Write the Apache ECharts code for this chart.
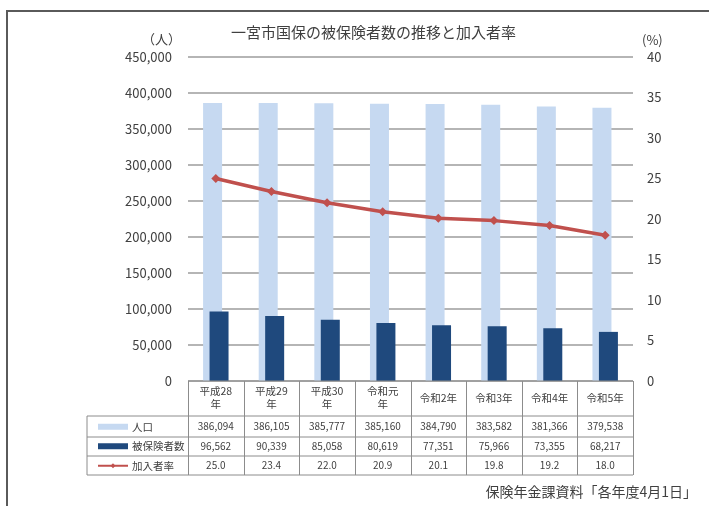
<!DOCTYPE html>
<html>
<head>
<meta charset="utf-8">
<script src="https://cdn.jsdelivr.net/npm/echarts@6/dist/echarts.min.js"></script>
<style>
  html, body { margin: 0; padding: 0; background: #fff; }
  #chart { width: 709px; height: 506px; }
</style>
</head>
<body>
<div id="chart"></div>
<script>
// 年度（各年度4月1日現在）
const categories = ['平成28\n年', '平成29\n年', '平成30\n年', '令和元\n年', '令和2年', '令和3年', '令和4年', '令和5年'];
// 人口
const population = [386094, 386105, 385777, 385160, 384790, 383582, 381366, 379538];
// 被保険者数
const insured = [96562, 90339, 85058, 80619, 77351, 75966, 73355, 68217];
// 加入者率（%）
const joinRate = [25.0, 23.4, 22.0, 20.9, 20.1, 19.8, 19.2, 18.0];

const seriesNames = ['人口', '被保険者数', '加入者率'];

const FONT = '"Noto Sans CJK JP", "Noto Sans", sans-serif';
const TEXT = '#404040';
const fmt = v => v.toLocaleString('en-US');

// plot area
const G = { left: 188, top: 57, right: 633, bottom: 381 };
// data table rows under the plot
const tableLeft = 87;
const rowLines = [416, 437, 456, 475];
const rowCenters = [426.5, 446.5, 465.5];

const chart = echarts.init(document.getElementById('chart'), null, { renderer: 'canvas' });

function tableRowAxis(values, center) {
  return {
    type: 'category',
    gridIndex: 0,
    position: 'bottom',
    offset: center - G.bottom,
    data: values,
    axisLine: { show: false },
    axisTick: { show: false },
    splitLine: { show: false },
    axisLabel: {
      interval: 0, margin: 0, verticalAlign: 'middle',
      fontFamily: FONT, fontSize: 10, color: TEXT
    }
  };
}

function tableGraphics() {
  const els = [];
  const line = (x1, y1, x2, y2) => els.push({
    type: 'line', silent: true, z: 10,
    shape: { x1, y1, x2, y2 },
    style: { stroke: '#8c8c8c', lineWidth: 1 }
  });
  const n = categories.length;
  const colW = (G.right - G.left) / n;
  line(G.left, G.bottom, G.right, G.bottom);
  rowLines.forEach(y => line(tableLeft, y, G.right, y));
  line(tableLeft, rowLines[0], tableLeft, rowLines[rowLines.length - 1]);
  for (let i = 0; i <= n; i++) {
    const x = Math.round(G.left + i * colW) + 0.5;
    line(x, G.bottom, x, rowLines[rowLines.length - 1]);
  }
  return els;
}

const option = {
  animation: false,
  backgroundColor: '#fff',
  textStyle: { fontFamily: FONT },
  title: {
    text: '一宮市国保の被保険者数の推移と加入者率',
    left: 226, top: 20,
    textStyle: { fontFamily: FONT, fontSize: 15, fontWeight: 'normal', color: TEXT }
  },
  legend: {
    data: [
      { name: seriesNames[0], icon: 'rect' },
      { name: seriesNames[1], icon: 'rect' },
      { name: seriesNames[2] }
    ],
    orient: 'vertical',
    left: 92, top: rowLines[0] - 4,
    itemGap: 0, itemWidth: 30, itemHeight: 6,
    selectedMode: false,
    textStyle: { fontFamily: FONT, fontSize: 10.5, color: TEXT, lineHeight: 19.5, padding: [0, 0, 0, -1] }
  },
  grid: {
    left: G.left, top: G.top, width: G.right - G.left, height: G.bottom - G.top,
    containLabel: false
  },
  xAxis: [
    {
      type: 'category',
      data: categories,
      axisLine: { show: false },
      axisTick: { show: false },
      axisLabel: {
        interval: 0, margin: 17, verticalAlign: 'middle', align: 'center',
        fontFamily: FONT, fontSize: 10.5, lineHeight: 13, color: TEXT
      }
    },
    tableRowAxis(population.map(fmt), rowCenters[0]),
    tableRowAxis(insured.map(fmt), rowCenters[1]),
    tableRowAxis(joinRate.map(v => v.toFixed(1)), rowCenters[2])
  ],
  yAxis: [
    {
      type: 'value', min: 0, max: 450000, interval: 50000,
      axisLine: { show: false }, axisTick: { show: false },
      axisLabel: { margin: 16, fontFamily: FONT, fontSize: 13, color: TEXT, formatter: v => fmt(v) },
      splitLine: { lineStyle: { color: '#9d9d9d', width: 1.5 } }
    },
    {
      type: 'value', min: 0, max: 40, interval: 5,
      axisLine: { show: false }, axisTick: { show: false },
      axisLabel: { margin: 14, fontFamily: FONT, fontSize: 13, color: TEXT },
      splitLine: { show: false }
    }
  ],
  series: [
    {
      name: seriesNames[0], type: 'bar', data: population,
      barWidth: 19, barGap: '-66%',
      itemStyle: { color: '#c6d9f1' }
    },
    {
      name: seriesNames[1], type: 'bar', data: insured,
      barWidth: 19,
      itemStyle: { color: '#1f497d' }
    },
    {
      name: seriesNames[2], type: 'line', yAxisIndex: 1, data: joinRate,
      symbol: 'diamond', symbolSize: 9,
      lineStyle: { color: '#c0504d', width: 3.5 },
      itemStyle: { color: '#c0504d' },
      z: 5
    }
  ],
  graphic: [
    // outer frame
    { type: 'polyline', silent: true, shape: { points: [[7, 506], [7, 11], [709, 11]] },
      style: { stroke: '#5a5a5a', lineWidth: 2, fill: null } },
    { type: 'text', left: 142, top: 33, silent: true,
      style: { text: '（人）', fontFamily: FONT, fontSize: 13, fill: TEXT } },
    { type: 'text', left: 642, top: 34, silent: true,
      style: { text: '(%)', fontFamily: FONT, fontSize: 13, fill: TEXT } },
    { type: 'text', right: 12, top: 485, silent: true,
      style: { text: '保険年金課資料「各年度4月1日」', fontFamily: FONT, fontSize: 14, fill: TEXT } },
    ...tableGraphics()
  ]
};

chart.setOption(option);
</script>
</body>
</html>
